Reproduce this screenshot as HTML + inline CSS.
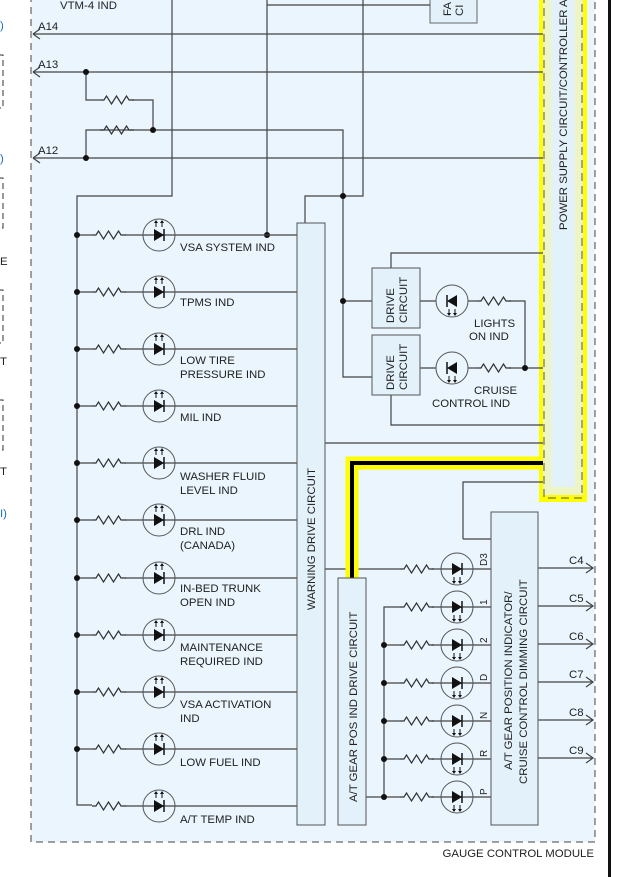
<!DOCTYPE html>
<html><head><meta charset="utf-8"><style>
html,body{margin:0;padding:0;background:#fff}
svg{display:block;font-family:"Liberation Sans",sans-serif}
text{font-size:11.4px;fill:#222}
</style></head><body>
<svg width="634" height="877" viewBox="0 0 634 877" xmlns="http://www.w3.org/2000/svg">
<defs>
<g id="r"><path d="M0 0h4l2.5-4 5 8 5-8 5 8 5-8 2.5 4h5" fill="none" stroke="#333" stroke-width="1.2"/></g>
<g id="led"><circle r="16" fill="none" stroke="#555" stroke-width="1"/><path d="M-5-6v12l10-6z" fill="#111"/><path d="M5-6v12" stroke="#111" stroke-width="1.5"/><path d="M-3-8v-6M3-8v-6" stroke="#111" stroke-width="1"/><path d="M-5-12l2-3 2 3zM1-12l2-3 2 3z" fill="#111"/></g>
<g id="led2"><circle r="16" fill="none" stroke="#555" stroke-width="1"/><path d="M-5-6v12l10-6z" fill="#111"/><path d="M5-6v12" stroke="#111" stroke-width="1.5"/><path d="M-3 8v6M3 8v6" stroke="#111" stroke-width="1"/><path d="M-5 12l2 3 2-3zM1 12l2 3 2-3z" fill="#111"/></g>
<g id="ledL"><circle r="16" fill="none" stroke="#555" stroke-width="1"/><path d="M5-6v12l-10-6z" fill="#111"/><path d="M-5-6v12" stroke="#111" stroke-width="1.5"/><path d="M-3 8v6M3 8v6" stroke="#111" stroke-width="1"/><path d="M-5 12l2 3 2-3zM1 12l2 3 2-3z" fill="#111"/></g>
</defs>
<g fill="none" stroke="#333" stroke-dasharray="6 4">
<path d="M-2 55h5v53h-5M-2 178h5v50h-5M-2 290h5v53h-5M-2 400h5v50h-5"/>
</g>
<text x="0" y="29" style="fill:#1a6fc0">)</text><text x="0" y="162" style="fill:#1a6fc0">)</text>
<text x="0" y="265">E</text><text x="0" y="365">T</text><text x="0" y="475">T</text>
<text x="0" y="517" style="fill:#1a6fc0">I)</text>
<rect x="31" y="-10" width="564" height="852" fill="#eaf5fd" stroke="#444" stroke-dasharray="7 5"/>
<rect x="608" y="0" width="3" height="877" fill="#111"/>
<text x="60" y="9">VTM-4 IND</text>
<rect x="539" y="-10" width="48" height="512" fill="#ffff00"/>
<rect x="543" y="-10" width="40" height="505" fill="#eef5c4"/>
<rect x="551" y="-10" width="24" height="497" fill="#e3f1fb"/>
<rect x="544" y="-10" width="38" height="508" fill="none" stroke="#555" stroke-dasharray="8 5"/>
<text transform="translate(567 230) rotate(-90)">POWER SUPPLY CIRCUIT/CONTROLLER A</text>
<rect x="430" y="-5" width="47" height="28" fill="#e3f1fb" stroke="#666"/>
<text transform="translate(451 16) rotate(-90)">FA</text><text transform="translate(463 16) rotate(-90)">CI</text>
<g fill="none" stroke="#444" stroke-width="1.2">
<path d="M33 34H543M33 72H543M33 158H543"/>
<path d="M33 34l7-5M33 34l7 5M33 72l7-5M33 72l7 5M33 158l7-5M33 158l7 5"/>
<path d="M86 72v28h14M132 100h21v30M153 130H100M86 158v-28h14M153 130H343v247h29M343 301h29"/>
<path d="M172 0v196H77v609h15"/>
<path d="M267 0v235M267 5h163"/>
<path d="M363 0v196H305v27"/>
<path d="M391 268v-15h152M391 395v30h152M325 443h218"/>
<path d="M420 301h16M468 301h9M509 301h16v67M420 368h16M468 368h9M509 368h34"/>
<path d="M463 539v-57h80M463 539h28"/>
<path d="M325 569h75M432 569h59"/>
<path d="M384 797v-190h16M366 797h34"/>
<path d="M384 645h16M384 683h16M384 721h16M384 759h16"/>
<path d="M432 607h59M432 645h59M432 683h59M432 721h59M432 759h59M432 797h59"/>
<path d="M538 568h55M538 606h55M538 644h55M538 682h55M538 720h55M538 758h55"/>
<path d="M586 563l7 5-7 5M586 601l7 5-7 5M586 639l7 5-7 5M586 677l7 5-7 5M586 715l7 5-7 5M586 753l7 5-7 5"/>
</g>
<path d="M543 463H352V578" fill="none" stroke="#ffff00" stroke-width="13"/>
<path d="M543 463H352V578" fill="none" stroke="#000" stroke-width="4"/>
<g fill="#111">
<circle cx="86" cy="72" r="3"/><circle cx="153" cy="130" r="3"/><circle cx="86" cy="158" r="3"/>
<circle cx="343" cy="196" r="3"/><circle cx="343" cy="301" r="3"/><circle cx="525" cy="368" r="3"/>
<circle cx="267" cy="235" r="3"/>
<circle cx="384" cy="645" r="3"/><circle cx="384" cy="683" r="3"/><circle cx="384" cy="721" r="3"/><circle cx="384" cy="759" r="3"/><circle cx="384" cy="797" r="3"/>
</g>
<use href="#r" x="100" y="100"/><use href="#r" x="100" y="130"/>
<g fill="none" stroke="#444" stroke-width="1.2">
<path d="M77 235h15M125 235h172M77 292h15M125 292h172M77 349h15M125 349h172M77 406h15M125 406h172M77 463h15M125 463h172M77 520h15M125 520h172M77 578h15M125 578h172M77 635h15M125 635h172M77 692h15M125 692h172M77 749h15M125 749h172M125 806h172"/>
</g>
<g fill="#111">
<circle cx="77" cy="235" r="3"/><circle cx="77" cy="292" r="3"/><circle cx="77" cy="349" r="3"/><circle cx="77" cy="406" r="3"/><circle cx="77" cy="463" r="3"/><circle cx="77" cy="520" r="3"/><circle cx="77" cy="578" r="3"/><circle cx="77" cy="635" r="3"/><circle cx="77" cy="692" r="3"/><circle cx="77" cy="749" r="3"/>
</g>
<g>
<use href="#r" x="92" y="235"/><use href="#r" x="92" y="292"/><use href="#r" x="92" y="349"/><use href="#r" x="92" y="406"/><use href="#r" x="92" y="463"/><use href="#r" x="92" y="520"/><use href="#r" x="92" y="578"/><use href="#r" x="92" y="635"/><use href="#r" x="92" y="692"/><use href="#r" x="92" y="749"/><use href="#r" x="92" y="806"/>
<use href="#led" x="159" y="235"/><use href="#led" x="159" y="292"/><use href="#led" x="159" y="349"/><use href="#led" x="159" y="406"/><use href="#led" x="159" y="463"/><use href="#led" x="159" y="520"/><use href="#led" x="159" y="578"/><use href="#led" x="159" y="635"/><use href="#led" x="159" y="692"/><use href="#led" x="159" y="749"/><use href="#led" x="159" y="806"/>
</g>
<text x="180" y="251">VSA SYSTEM IND</text>
<text x="180" y="306">TPMS IND</text>
<text x="180" y="364">LOW TIRE</text><text x="180" y="378">PRESSURE IND</text>
<text x="180" y="421">MIL IND</text>
<text x="180" y="480">WASHER FLUID</text><text x="180" y="494">LEVEL IND</text>
<text x="180" y="535">DRL IND</text><text x="180" y="549">(CANADA)</text>
<text x="180" y="592">IN-BED TRUNK</text><text x="180" y="606">OPEN IND</text>
<text x="180" y="651">MAINTENANCE</text><text x="180" y="665">REQUIRED IND</text>
<text x="180" y="708">VSA ACTIVATION</text><text x="180" y="722">IND</text>
<text x="180" y="766">LOW FUEL IND</text>
<text x="180" y="823">A/T TEMP IND</text>
<rect x="297" y="223" width="28" height="602" fill="#e3f1fb" stroke="#555"/>
<text transform="translate(315 610) rotate(-90)">WARNING DRIVE CIRCUIT</text>
<rect x="372" y="268" width="48" height="60" fill="#e3f1fb" stroke="#555"/>
<rect x="372" y="335" width="48" height="60" fill="#e3f1fb" stroke="#555"/>
<text transform="translate(394 323) rotate(-90)">DRIVE</text><text transform="translate(407 323) rotate(-90)">CIRCUIT</text>
<text transform="translate(394 390) rotate(-90)">DRIVE</text><text transform="translate(407 390) rotate(-90)">CIRCUIT</text>
<use href="#ledL" x="452" y="301"/><use href="#ledL" x="452" y="368"/>
<use href="#r" x="477" y="301"/><use href="#r" x="477" y="368"/>
<text x="474" y="327">LIGHTS</text><text x="469" y="340">ON IND</text>
<text x="474" y="394">CRUISE</text><text x="432" y="407">CONTROL IND</text>
<rect x="338" y="578" width="28" height="247" fill="#e3f1fb" stroke="#555"/>
<text transform="translate(357 802) rotate(-90)">A/T GEAR POS IND DRIVE CIRCUIT</text>
<rect x="491" y="512" width="47" height="313" fill="#e3f1fb" stroke="#555"/>
<text transform="translate(512 770) rotate(-90)">A/T GEAR POSITION INDICATOR/</text>
<text transform="translate(527 784) rotate(-90)">CRUISE CONTROL DIMMING CIRCUIT</text>
<use href="#r" x="400" y="569"/><use href="#r" x="400" y="607"/><use href="#r" x="400" y="645"/><use href="#r" x="400" y="683"/><use href="#r" x="400" y="721"/><use href="#r" x="400" y="759"/><use href="#r" x="400" y="797"/>
<use href="#led2" x="457" y="569"/><use href="#led2" x="457" y="607"/><use href="#led2" x="457" y="645"/><use href="#led2" x="457" y="683"/><use href="#led2" x="457" y="721"/><use href="#led2" x="457" y="759"/><use href="#led2" x="457" y="797"/>
<g style="font-size:10px">
<text transform="translate(487 566) rotate(-90)" style="font-size:10px">D3</text>
<text transform="translate(487 605) rotate(-90)" style="font-size:10px">1</text>
<text transform="translate(487 643) rotate(-90)" style="font-size:10px">2</text>
<text transform="translate(487 681) rotate(-90)" style="font-size:10px">D</text>
<text transform="translate(487 719) rotate(-90)" style="font-size:10px">N</text>
<text transform="translate(487 757) rotate(-90)" style="font-size:10px">R</text>
<text transform="translate(487 795) rotate(-90)" style="font-size:10px">P</text>
</g>
<text x="569" y="564">C4</text><text x="569" y="602">C5</text><text x="569" y="640">C6</text><text x="569" y="678">C7</text><text x="569" y="716">C8</text><text x="569" y="754">C9</text>
<text x="38" y="30">A14</text><text x="38" y="68">A13</text><text x="38" y="154">A12</text>
<text x="594" y="857" text-anchor="end">GAUGE CONTROL MODULE</text>
</svg>
</body></html>
